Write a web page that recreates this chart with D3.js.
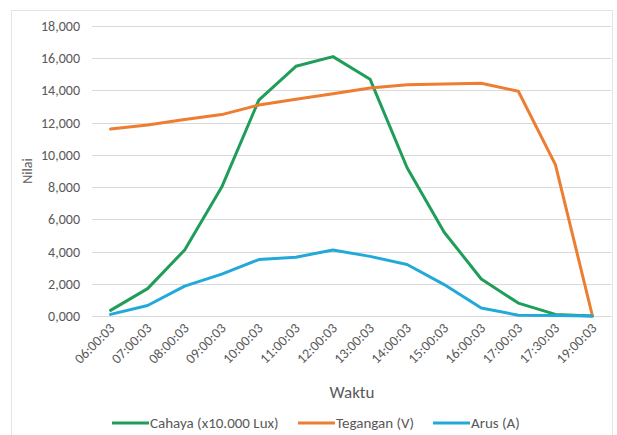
<!DOCTYPE html>
<html>
<head>
<meta charset="utf-8">
<script src="https://cdn.jsdelivr.net/npm/d3@7"></script>
<style>
body { margin: 0; background: #fff; font-family: Calibri, Carlito, "Open Sans", "Liberation Sans", sans-serif; }
</style>
</head>
<body>
<svg id="chart" width="617" height="435"></svg>
<script>
var waktu = ["06:00:03","07:00:03","08:00:03","09:00:03","10:00:03","11:00:03","12:00:03","13:00:03","14:00:03","15:00:03","16:00:03","17:00:03","17:30:03","19:00:03"];
var cahaya = [0.35, 1.7, 4.1, 8.0, 13.4, 15.5, 16.1, 14.7, 9.2, 5.2, 2.3, 0.8, 0.1, 0];
var tegangan = [11.6, 11.85, 12.2, 12.5, 13.1, 13.45, 13.8, 14.15, 14.35, 14.4, 14.45, 13.95, 9.4, 0];
var arus = [0.1, 0.65, 1.85, 2.6, 3.5, 3.65, 4.1, 3.7, 3.2, 1.95, 0.5, 0.05, 0.03, 0];
var yTicks = [0, 2, 4, 6, 8, 10, 12, 14, 16, 18];

var seriesNames = ["Cahaya (x10.000 Lux)", "Tegangan (V)", "Arus (A)"];
var seriesColors = ["#1f9e5a", "#ed7d31", "#22a9d8"];
var seriesData = [cahaya, tegangan, arus];

var svg = d3.select("#chart");

// chart border
svg.append("rect").attr("x", 11.5).attr("y", 10.5).attr("width", 601).attr("height", 440)
  .attr("fill", "none").attr("stroke", "#e4e4e4");

var pLeft = 92, pRight = 611, pTop = 26, pBottom = 316;

var x = d3.scaleBand().domain(waktu).range([pLeft, pRight]);
var y = d3.scaleLinear().domain([0, 18]).range([pBottom, pTop]);

var fmt = function(v){ return d3.format(",.3f")(v).replace(".", ","); };

// gridlines
svg.append("g").selectAll("line").data(yTicks).enter().append("line")
  .attr("x1", pLeft).attr("x2", pRight)
  .attr("y1", d => Math.round(y(d)) + 0.5).attr("y2", d => Math.round(y(d)) + 0.5)
  .attr("stroke", "#d9d9d9").attr("stroke-width", 1);

// y labels
svg.append("g").selectAll("text").data(yTicks).enter().append("text")
  .attr("x", 80).attr("y", d => y(d) + 5)
  .attr("text-anchor", "end")
  .style("font-size", "14px").attr("fill", "#595959")
  .text(d => fmt(d));

// x labels
svg.append("g").selectAll("text").data(waktu).enter().append("text")
  .attr("transform", d => "translate(" + (x(d) + x.bandwidth()/2 + 5) + "," + (pBottom + 13) + ") rotate(-45)")
  .attr("text-anchor", "end")
  .style("font-size", "14px").attr("fill", "#595959")
  .text(d => d);

// axis titles
svg.append("text").attr("transform", "translate(32,171) rotate(-90)")
  .attr("text-anchor", "middle").style("font-size", "14px").attr("fill", "#595959").text("Nilai");
svg.append("text").attr("x", 352).attr("y", 398)
  .attr("text-anchor", "middle").style("font-size", "17px").attr("fill", "#595959").text("Waktu");

// lines
var line = d3.line()
  .x((d, i) => x(waktu[i]) + x.bandwidth()/2)
  .y(d => y(d));

seriesData.forEach(function(s, k){
  svg.append("path").datum(s)
    .attr("d", line)
    .attr("fill", "none")
    .attr("stroke", seriesColors[k])
    .attr("stroke-width", 3)
    .attr("stroke-linejoin", "round")
    .attr("stroke-linecap", "round");
});

// legend
var legX = [112, 298, 433];
var lg = svg.append("g");
seriesNames.forEach(function(n, k){
  lg.append("line").attr("x1", legX[k]).attr("x2", legX[k] + 37)
    .attr("y1", 423).attr("y2", 423)
    .attr("stroke", seriesColors[k]).attr("stroke-width", 3);
  lg.append("text").attr("x", legX[k] + 38).attr("y", 428)
    .style("font-size", "15px").attr("fill", "#595959").text(n);
});
</script>
</body>
</html>
